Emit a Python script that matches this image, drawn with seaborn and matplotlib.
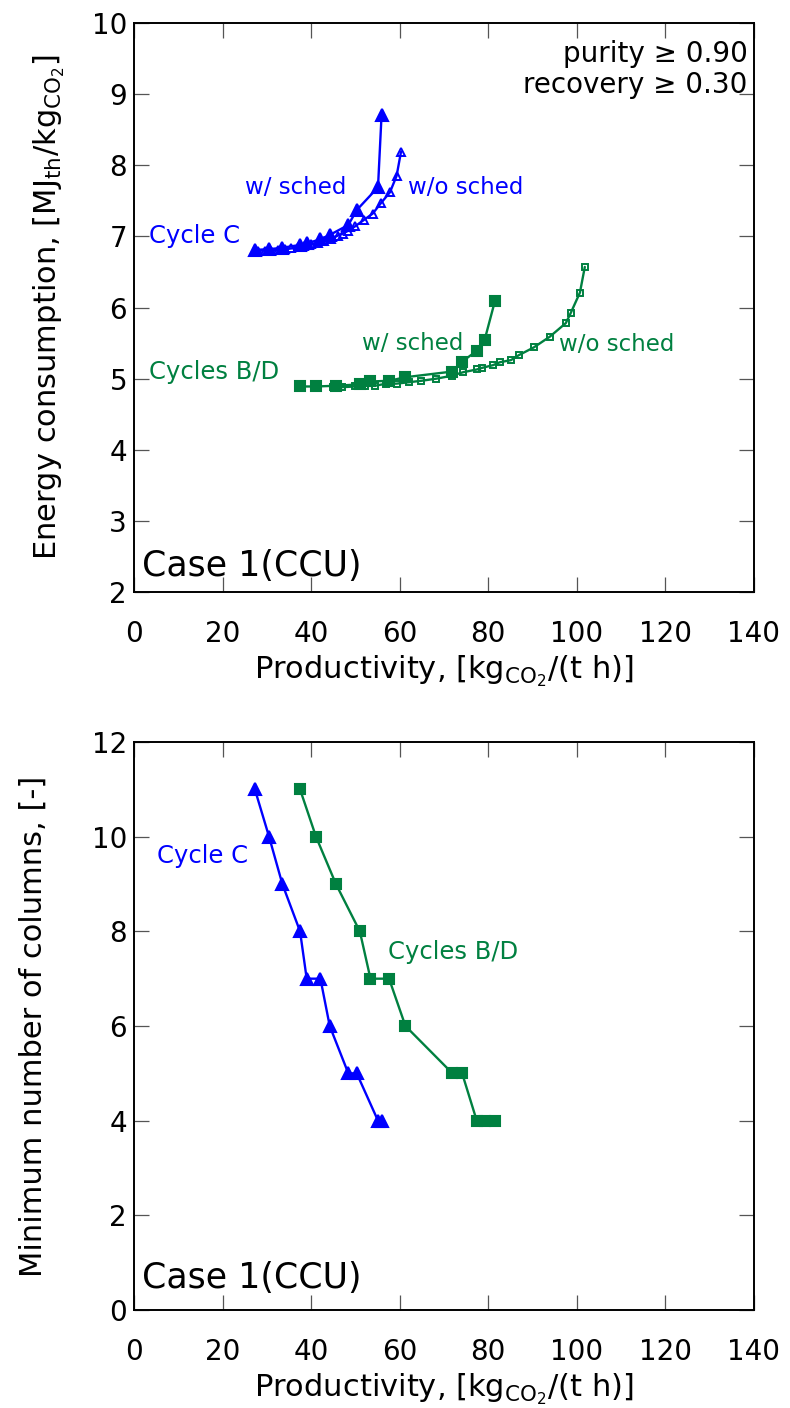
import matplotlib
matplotlib.use("Agg")
import matplotlib.pyplot as plt
import seaborn as sns
import pandas as pd

# ---- data: productivity [kgCO2/(t h)] vs energy / columns ----
c_sched_prod = [27.3, 30.5, 33.5, 37.5, 39.0, 42.1, 44.2, 48.4, 50.3, 55.1, 55.9]
c_sched_energy = [6.81, 6.82, 6.84, 6.88, 6.90, 6.96, 7.02, 7.16, 7.37, 7.69, 8.70]
c_sched_columns = [11, 10, 9, 8, 7, 7, 6, 5, 5, 4, 4]

c_nosched_prod = [28.0, 29.5, 31.0, 32.5, 34.0, 35.5, 37.0, 38.5, 40.0, 41.5,
                  43.0, 44.5, 46.0, 47.2, 48.4, 49.9, 51.9, 53.9, 55.8, 57.8,
                  59.3, 60.3]
c_nosched_energy = [6.80, 6.80, 6.80, 6.81, 6.82, 6.83, 6.85, 6.87, 6.89, 6.91,
                    6.94, 6.97, 7.01, 7.04, 7.08, 7.14, 7.23, 7.32, 7.47, 7.62,
                    7.85, 8.19]

bd_sched_prod = [37.5, 41.1, 45.6, 51.0, 53.4, 57.6, 61.3, 71.9, 74.1, 77.4, 79.2, 81.5]
bd_sched_energy = [4.89, 4.89, 4.90, 4.92, 4.96, 4.97, 5.02, 5.10, 5.24, 5.39, 5.55, 6.09]
bd_sched_columns = [11, 10, 9, 8, 7, 7, 6, 5, 5, 4, 4, 4]

bd_nosched_prod = [45.0, 47.0, 49.9, 52.1, 54.4, 57.0, 59.3, 62.1, 64.9, 68.3,
                   71.7, 74.3, 77.5, 78.5, 81.1, 82.6, 85.1, 86.9, 90.3, 93.9,
                   97.5, 98.6, 100.7, 101.8]
bd_nosched_energy = [4.88, 4.88, 4.89, 4.90, 4.90, 4.93, 4.93, 4.95, 4.97, 5.00,
                     5.04, 5.09, 5.13, 5.15, 5.19, 5.23, 5.26, 5.33, 5.44, 5.59,
                     5.78, 5.92, 6.21, 6.57]

x_ticks = [0, 20, 40, 60, 80, 100, 120, 140]
energy_ticks = [2, 3, 4, 5, 6, 7, 8, 9, 10]
column_ticks = [0, 2, 4, 6, 8, 10, 12]

BLUE = "#0000ff"
GREEN = "#008040"

sns.set_theme(style="ticks")
plt.rcParams["font.family"] = ["DejaVu Sans"]
plt.rcParams["mathtext.fontset"] = "dejavusans"
plt.rcParams["text.color"] = "black"
plt.rcParams["axes.labelcolor"] = "black"

fig = plt.figure(figsize=(7.9, 14.08), dpi=100)
ax1 = fig.add_axes([0.1696, 0.5795, 0.7848, 0.4042])
ax2 = fig.add_axes([0.1696, 0.0696, 0.7848, 0.4034])


def draw(ax, x, y, color, marker, ms, filled=True, mew=1.5):
    df = pd.DataFrame({"x": x, "y": y})
    sns.lineplot(data=df, x="x", y="y", ax=ax, sort=False, estimator=None,
                 color=color, lw=1.7, marker=marker, markersize=ms,
                 markerfacecolor=color if filled else "none",
                 markeredgecolor=color, markeredgewidth=mew)


def style_axes(ax, yticks):
    ax.set_xlim(0, 140)
    ax.set_xticks(x_ticks)
    ax.set_ylim(yticks[0], yticks[-1])
    ax.set_yticks(yticks)
    ax.tick_params(direction="in", length=11, width=0.9, color="#555555",
                   top=True, right=True, labelsize=20, labelcolor="black")
    ax.tick_params(axis="x", pad=20)
    ax.tick_params(axis="y", pad=5)
    for s in ax.spines.values():
        s.set_linewidth(1.4)
        s.set_color("black")
    ax.set_xlabel(r"Productivity, [kg$_{\mathrm{CO_2}}$/(t h)]", fontsize=22, labelpad=4)


# ---- top: energy consumption ----
draw(ax1, c_nosched_prod, c_nosched_energy, BLUE, "^", 6, filled=False, mew=1.4)
draw(ax1, c_sched_prod, c_sched_energy, BLUE, "^", 8.5)
draw(ax1, bd_nosched_prod, bd_nosched_energy, GREEN, "s", 5, filled=False, mew=1.4)
draw(ax1, bd_sched_prod, bd_sched_energy, GREEN, "s", 6.5)
style_axes(ax1, energy_ticks)
ax1.set_ylabel(r"Energy consumption, [MJ$_{\mathrm{th}}$/kg$_{\mathrm{CO_2}}$]",
               fontsize=22, labelpad=18)

ax1.text(25.0, 7.69, "w/ sched", color=BLUE, fontsize=16.5, va="center", ha="left")
ax1.text(61.9, 7.69, "w/o sched", color=BLUE, fontsize=16.5, va="center", ha="left")
ax1.text(3.4, 7.0, "Cycle C", color=BLUE, fontsize=17.5, va="center", ha="left")
ax1.text(51.5, 5.49, "w/ sched", color=GREEN, fontsize=16.5, va="center", ha="left")
ax1.text(95.9, 5.48, "w/o sched", color=GREEN, fontsize=16.5, va="center", ha="left")
ax1.text(3.4, 5.10, "Cycles B/D", color=GREEN, fontsize=17.5, va="center", ha="left")
ax1.text(0.99, 0.946, "purity \u2265 0.90", transform=ax1.transAxes, fontsize=20,
         ha="right", va="center")
ax1.text(0.99, 0.891, "recovery \u2265 0.30", transform=ax1.transAxes, fontsize=20,
         ha="right", va="center")
ax1.text(0.013, 0.045, "Case 1(CCU)", transform=ax1.transAxes, fontsize=25,
         ha="left", va="center")

# ---- bottom: minimum number of columns ----
draw(ax2, c_sched_prod, c_sched_columns, BLUE, "^", 9)
draw(ax2, bd_sched_prod, bd_sched_columns, GREEN, "s", 7)
style_axes(ax2, column_ticks)
ax2.set_ylabel("Minimum number of columns, [-]", fontsize=22, labelpad=32)

ax2.text(5.2, 9.59, "Cycle C", color=BLUE, fontsize=17.5, va="center", ha="left")
ax2.text(57.3, 7.56, "Cycles B/D", color=GREEN, fontsize=17.5, va="center", ha="left")
ax2.text(0.013, 0.057, "Case 1(CCU)", transform=ax2.transAxes, fontsize=25,
         ha="left", va="center")

fig.savefig("out.png", dpi=100)
